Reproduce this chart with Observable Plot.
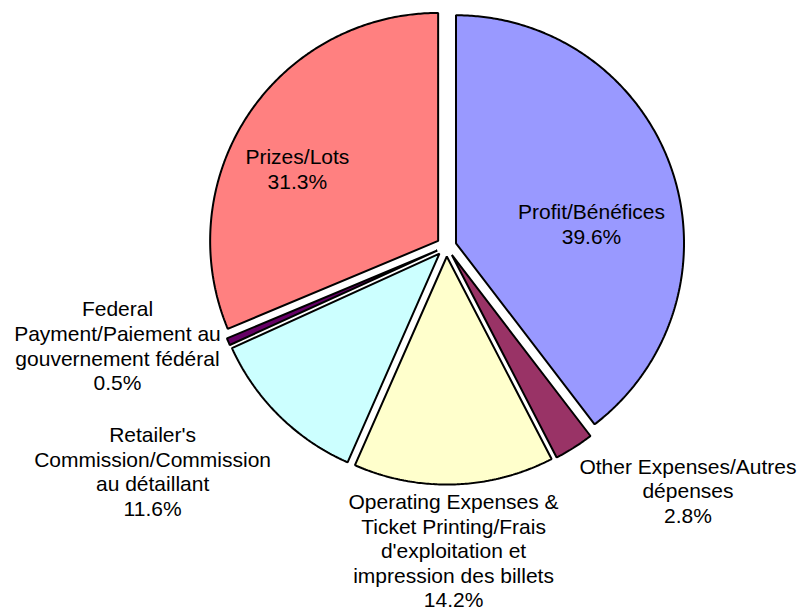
<!DOCTYPE html>
<html>
<head>
<meta charset="utf-8">
<script src="https://cdn.jsdelivr.net/npm/d3@7"></script>
<script src="https://cdn.jsdelivr.net/npm/@observablehq/plot@0.6"></script>
<style>
  html, body { margin: 0; padding: 0; background: #ffffff; }
  #chart svg { display: block; }
</style>
</head>
<body>
<div id="chart"></div>
<script>
// ---- Data ----
const categories = [
  "Profit/Bénéfices",
  "Other Expenses/Autres dépenses",
  "Operating Expenses & Ticket Printing/Frais d'exploitation et impression des billets",
  "Retailer's Commission/Commission au détaillant",
  "Federal Payment/Paiement au gouvernement fédéral",
  "Prizes/Lots"
];
const labelLines = [
  ["Profit/Bénéfices"],
  ["Other Expenses/Autres", "dépenses"],
  ["Operating Expenses &", "Ticket Printing/Frais", "d'exploitation et", "impression des billets"],
  ["Retailer's", "Commission/Commission", "au détaillant"],
  ["Federal", "Payment/Paiement au", "gouvernement fédéral"],
  ["Prizes/Lots"]
];
const shares = [39.6, 2.8, 14.2, 11.6, 0.5, 31.3];

// ---- Styles / layout (kept apart from data) ----
const colors = ["#9999FF", "#993366", "#FFFFCC", "#CCFFFF", "#660066", "#FF8080"];
// label anchors in pie-radius units (centre of pie = 0,0)
const labelPos = [
  [0.636, 0.100],
  [1.059, -1.070],
  [0.031, -1.333],
  [-1.289, -0.986],
  [-1.443, -0.434],
  [-0.654, 0.341]
];
const explode = 0.044;
const W = 801, H = 612;

// ---- Build slices ----
const pie = d3.pie().sort(null).value(d => d.value)(
  categories.map((name, i) => ({name, value: shares[i]}))
);
const points = [];
pie.forEach(a => {
  const mid = (a.startAngle + a.endAngle) / 2;
  const ox = explode * Math.sin(mid), oy = explode * Math.cos(mid);
  points.push({name: a.data.name, x: ox, y: oy});
  const n = Math.max(2, Math.ceil((a.endAngle - a.startAngle) / (Math.PI / 360)));
  for (let k = 0; k <= n; k++) {
    const t = a.startAngle + (a.endAngle - a.startAngle) * k / n;
    points.push({name: a.data.name, x: ox + Math.sin(t), y: oy + Math.cos(t)});
  }
});

const labels = categories.map((name, i) => ({
  name,
  x: labelPos[i][0],
  y: labelPos[i][1],
  text: [...labelLines[i], d3.format(".1f")(shares[i]) + "%"].join("\n")
}));

const chart = Plot.plot({
  width: W,
  height: H,
  margin: 0,
  style: {background: "#ffffff", fontFamily: "'Liberation Sans', Arial, sans-serif"},
  x: {domain: [-446 / 228, 355 / 228], axis: null},
  y: {domain: [-366 / 228, 246 / 228], axis: null},
  color: {domain: categories, range: colors},
  marks: [
    Plot.line(points, {
      x: "x", y: "y", z: "name", fill: "name",
      stroke: "#000000", strokeWidth: 2, strokeLinejoin: "miter",
      curve: "linear-closed"
    }),
    Plot.text(labels, {
      x: "x", y: "y", text: "text",
      fontSize: 21, lineHeight: 1.17, fill: "#000000",
      fontFamily: "'Liberation Sans', Arial, sans-serif"
    })
  ]
});
document.getElementById("chart").appendChild(chart);
</script>
</body>
</html>
